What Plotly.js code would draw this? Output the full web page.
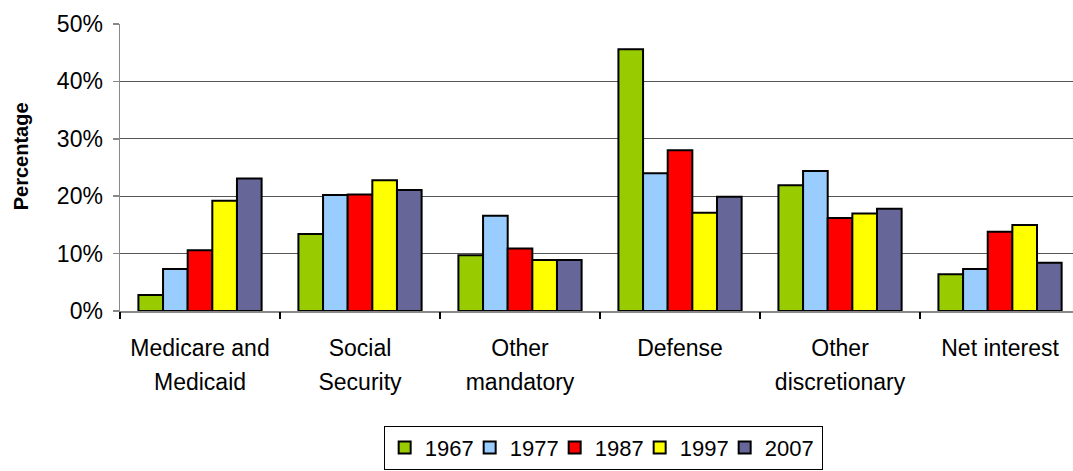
<!DOCTYPE html>
<html>
<head>
<meta charset="utf-8">
<script src="https://cdn.plot.ly/plotly-3.0.1.min.js"></script>
<style>html,body{margin:0;padding:0;background:#fff;}#chart{width:1073px;height:471px;}</style>
</head>
<body>
<div id="chart"></div>
<script>
// Data
const categories = ["Medicare and Medicaid", "Social Security", "Other mandatory", "Defense", "Other discretionary", "Net interest"];
const tickLine1 = ["Medicare and", "Social", "Other", "Defense", "Other", "Net interest"];
const tickLine2 = ["Medicaid", "Security", "mandatory", "", "discretionary", ""];
const years = ["1967", "1977", "1987", "1997", "2007"];
const v1967 = [2.8, 13.4, 9.7, 45.6, 21.9, 6.4];
const v1977 = [7.3, 20.2, 16.6, 24.0, 24.4, 7.3];
const v1987 = [10.6, 20.3, 10.9, 28.0, 16.2, 13.8];
const v1997 = [19.2, 22.8, 8.9, 17.1, 17.0, 15.0];
const v2007 = [23.1, 21.1, 8.9, 19.9, 17.8, 8.4];
const yTickVals = [0, 10, 20, 30, 40, 50];
const yTickText = ["0%", "10%", "20%", "30%", "40%", "50%"];

const seriesValues = [v1967, v1977, v1987, v1997, v2007];
const colors = ["#99CC00", "#99CCFF", "#FF0000", "#FFFF00", "#666699"];
const idx = categories.map((c, i) => i);

const FONT = "Liberation Sans, Arial, sans-serif";

const traces = years.map((yr, k) => ({
  type: "bar",
  name: yr,
  x: idx,
  y: seriesValues[k],
  marker: {color: colors[k], line: {color: "#000", width: 2}},
  legendwidth: k === years.length - 1 ? 52 : 40,
  hoverinfo: "skip"
}));

const xr = [-0.5, 5.456];

const layout = {
  width: 1073, height: 471,
  margin: {l: 120, r: 0, t: 24, b: 160, pad: 0},
  paper_bgcolor: "#fff", plot_bgcolor: "#fff",
  font: {family: FONT, size: 23, color: "#000"},
  barmode: "group",
  bargap: 0.23,
  bargroupgap: 0,
  showlegend: true,
  legend: {
    orientation: "h",
    x: 0.507, xanchor: "center",
    y: -0.40, yanchor: "top",
    bordercolor: "#000", borderwidth: 1,
    bgcolor: "#fff",
    entrywidth: 40,
    entrywidthmode: "pixels",
    font: {family: FONT, size: 22, color: "#000"},
    traceorder: "normal"
  },
  xaxis: {
    type: "linear",
    range: xr,
    tickmode: "array",
    tickvals: idx,
    ticktext: tickLine1,
    ticks: "",
    showgrid: false,
    zeroline: false,
    showline: true,
    linecolor: "#888",
    linewidth: 1.5,
    ticklabelstandoff: 16,
    tickfont: {family: FONT, size: 23, color: "#000"},
    fixedrange: true
  },
  xaxis2: {
    type: "linear",
    overlaying: "x",
    anchor: "y",
    side: "bottom",
    range: xr,
    tickmode: "array",
    tickvals: idx,
    ticktext: tickLine2,
    ticks: "",
    showgrid: false,
    zeroline: false,
    showline: false,
    ticklabelstandoff: 55,
    tickfont: {family: FONT, size: 23, color: "#000"},
    fixedrange: true
  },
  xaxis3: {
    type: "linear",
    overlaying: "x",
    anchor: "y",
    side: "bottom",
    range: xr,
    tickmode: "array",
    tickvals: [-0.5, 0.5, 1.5, 2.5, 3.5, 4.5],
    ticktext: ["", "", "", "", "", ""],
    ticks: "outside",
    ticklen: 7,
    tickwidth: 1.5,
    tickcolor: "#000",
    showgrid: false,
    zeroline: false,
    showline: false,
    fixedrange: true
  },
  yaxis: {
    range: [0, 50],
    tickmode: "array",
    tickvals: yTickVals,
    ticktext: yTickText,
    ticks: "outside",
    ticklen: 6,
    tickcolor: "#888",
    tickwidth: 1.5,
    showgrid: true,
    gridcolor: "#555",
    gridwidth: 1.2,
    zeroline: false,
    showline: true,
    linecolor: "#888",
    linewidth: 1.5,
    ticklabelstandoff: 5,
    tickfont: {family: FONT, size: 23, color: "#000"},
    title: {text: "<b>\u00a0\u00a0\u00a0\u00a0Percentage</b>", font: {family: FONT, size: 20, color: "#000"}, standoff: 23},
    automargin: false,
    fixedrange: true
  }
};

// invisible helper traces so overlaying axes are drawn
const helper2 = {type: "scatter", x: [], y: [], xaxis: "x2", yaxis: "y", showlegend: false, hoverinfo: "skip"};
const helper3 = {type: "scatter", x: [], y: [], xaxis: "x3", yaxis: "y", showlegend: false, hoverinfo: "skip"};

Plotly.newPlot("chart", traces.concat([helper2, helper3]), layout, {displayModeBar: false, staticPlot: true});
</script>
</body>
</html>
